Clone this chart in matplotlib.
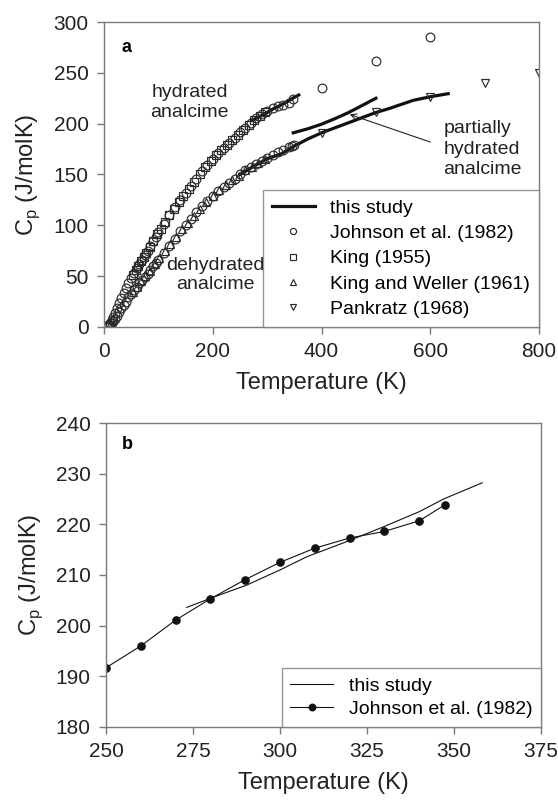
import matplotlib

matplotlib.use("Agg")
import matplotlib.pyplot as plt

plt.rcParams["font.family"] = ["Liberation Sans", "DejaVu Sans"]

# --- panel a: hydrated analcime, Johnson et al. (1982) ---
hyd_T = [5, 8, 11, 14, 17, 20, 24, 28, 32, 36, 40, 45, 50, 55, 60, 65, 70, 75, 80, 85,
         90, 95, 100, 110, 120, 130, 140, 150, 160, 170, 180, 190, 200, 210, 220, 230,
         240, 250, 260, 270, 280, 290, 300, 310, 320, 330, 340, 347.5]
hyd_cp = [0.4, 1.5, 3.5, 6.5, 10, 14, 18.5, 24, 28.5, 33, 38, 43, 48, 53, 58, 62, 66, 71,
          75, 80, 85, 89, 93, 101, 110, 118, 125, 132, 139, 146, 153, 159, 165, 171, 176,
          181, 186, 191.7, 196.0, 201.1, 205.3, 209.1, 212.5, 215.3, 217.3, 218.6, 220.7,
          223.9]

# dehydrated analcime, Johnson et al. (1982)
dehyd_T = [5, 8, 11, 14, 17, 20, 24, 28, 32, 36, 40, 45, 50, 55, 60, 65, 70, 75, 80, 85,
           90, 95, 100, 110, 120, 130, 140, 150, 160, 170, 180, 190, 200, 210, 220, 230,
           240, 250, 260, 270, 280, 290, 300, 310, 320, 330, 340, 345, 350]
dehyd_cp = [0.2, 0.8, 2, 3.5, 5.5, 8, 11, 15, 18.5, 22, 25, 29, 32.5, 36, 39.5, 43, 46, 49,
            52, 56, 60, 63, 66, 73, 80, 87, 94, 100, 106, 113, 119, 124, 129, 134, 138, 142,
            146, 150, 154, 157, 160, 163, 166, 169, 172, 174.5, 177, 178, 179]

# Johnson et al. (1982), high temperature
john_hi_T = [400, 500, 600]
john_hi_cp = [235, 262, 285]

# King (1955)
king_T = [53, 58, 63, 68, 73, 78, 84, 90, 97, 104, 112, 120, 128, 137, 146, 156, 166, 176,
          186, 196, 206, 216, 226, 236, 246, 256, 266, 276, 286, 296]
king_cp = [51, 56, 60, 64.5, 69, 73, 79, 85, 91, 96, 103, 110, 116, 123, 129, 136, 143, 150,
           157, 163, 169, 174, 179, 184, 189, 194, 199, 203.5, 207.5, 211]

# King and Weller (1961)
kw_T = [53, 60, 68, 76, 84, 93, 102, 112, 122, 132, 143, 154, 165, 176, 188, 200, 212, 224,
        236, 248, 260, 272, 284, 296]
kw_cp = [34, 39.5, 45, 50, 55, 61.5, 67.5, 74.5, 81.5, 88.5, 96, 102.5, 109.5, 116.5, 123,
         129, 135, 140, 144.5, 149, 154, 157.5, 161, 165]

# Pankratz (1968)
pank_T = [400, 500, 600, 700, 800]
pank_cp = [191, 211, 226, 240, 250]

# this study
study_hyd_T = [273.2, 280, 290.4, 300, 307.7, 319.2, 329.7, 340, 347, 358.1]
study_hyd_cp = [203.6, 205.4, 208.0, 211.0, 213.6, 216.6, 219.5, 222.5, 225.0, 228.2]
study_dehyd_T = [250, 275, 300, 325, 350, 375, 400, 425, 450, 475, 500, 525, 544, 569, 600, 633]
study_dehyd_cp = [150, 158, 165.5, 170, 178, 185, 191, 196, 201, 206, 211, 215, 218.5, 223,
                  226.5, 229.5]
study_part_T = [348, 375, 400, 425, 450, 475, 500]
study_part_cp = [191, 195, 199.5, 205, 211, 218, 225]

# --- panel b: Johnson et al. (1982) near room temperature ---
b_john_T = [250, 260, 270, 280, 290, 300, 310, 320, 330, 340, 347.5]
b_john_cp = [191.7, 196.0, 201.1, 205.3, 209.1, 212.5, 215.3, 217.3, 218.6, 220.7, 223.9]

GREY = "#7a7a7a"
MK = dict(linestyle="none", markerfacecolor="none", markeredgecolor="#2a2a2a",
          markeredgewidth=0.85, markersize=6.3)

fig = plt.figure(figsize=(5.58, 8.01), dpi=100)
ax = fig.add_axes([0.1864, 0.5918, 0.7796, 0.3807])
bx = fig.add_axes([0.19, 0.0924, 0.7796, 0.3795])

for a in (ax, bx):
    for s in a.spines.values():
        s.set_color(GREY)
        s.set_linewidth(1.0)
    a.tick_params(direction="out", length=5, width=1.0, color=GREY, labelsize=15,
                  labelcolor="#222222", pad=6)

# panel a
ax.plot(study_hyd_T, study_hyd_cp, color="#111111", lw=2.3, label="this study")
ax.plot(study_dehyd_T, study_dehyd_cp, color="#111111", lw=2.3)
ax.plot(study_part_T, study_part_cp, color="#111111", lw=2.3)
ax.plot(hyd_T + john_hi_T, hyd_cp + john_hi_cp, marker="o", label="Johnson et al. (1982)", **MK)
ax.plot(dehyd_T, dehyd_cp, marker="o", **MK)
ax.plot(king_T, king_cp, marker="s", label="King (1955)", **MK)
ax.plot(kw_T, kw_cp, marker="^", label="King and Weller (1961)", **MK)
ax.plot(pank_T, pank_cp, marker="v", label="Pankratz (1968)", **MK)

ax.set_xlim(0, 800)
ax.set_ylim(0, 300)
ax.set_xticks([0, 200, 400, 600, 800])
ax.set_yticks([0, 50, 100, 150, 200, 250, 300])
ax.set_xlabel("Temperature (K)", fontsize=17, color="#222222", labelpad=8)
ax.set_ylabel(r"C$_\mathregular{p}$ (J/molK)", fontsize=17, color="#222222", labelpad=8)

ax.text(42, 275, "a", fontsize=13, fontweight="bold", ha="center", va="center")
ax.text(157, 221, "hydrated\nanalcime", fontsize=14, ha="center", va="center",
        linespacing=1.2, color="#222222")
ax.text(205, 51, "dehydrated\nanalcime", fontsize=14, ha="center", va="center",
        linespacing=1.2, color="#222222")
ax.text(624, 175, "partially\nhydrated\nanalcime", fontsize=14, ha="left", va="center",
        linespacing=1.25, color="#222222")
ax.annotate("", xy=(447, 210), xytext=(605, 181),
            arrowprops=dict(arrowstyle="->", color="#222222", lw=0.8))

leg = ax.legend(loc="lower right", bbox_to_anchor=(1, 0), borderaxespad=0, fontsize=14,
                frameon=True, fancybox=False, markerscale=0.7, handlelength=2.2,
                labelspacing=0.4, borderpad=0.45, handletextpad=0.8)
leg.get_frame().set_edgecolor(GREY)
leg.get_frame().set_linewidth(1.0)

# panel b
bx.plot(study_hyd_T, study_hyd_cp, color="#111111", lw=0.8, label="this study")
bx.plot(b_john_T, b_john_cp, color="#111111", lw=0.8, marker="o", markersize=5.2,
        label="Johnson et al. (1982)")
bx.set_xlim(250, 375)
bx.set_ylim(180, 240)
bx.set_xticks([250, 275, 300, 325, 350, 375])
bx.set_yticks([180, 190, 200, 210, 220, 230, 240])
bx.set_xlabel("Temperature (K)", fontsize=17, color="#222222", labelpad=8)
bx.set_ylabel(r"C$_\mathregular{p}$ (J/molK)", fontsize=17, color="#222222", labelpad=8)
bx.text(256, 235.7, "b", fontsize=13, fontweight="bold", ha="center", va="center")

leg = bx.legend(loc="lower right", bbox_to_anchor=(1, 0), borderaxespad=0, fontsize=14,
                frameon=True, fancybox=False, markerscale=0.9, handlelength=2.2,
                labelspacing=0.3, borderpad=0.45, handletextpad=0.8)
leg.get_frame().set_edgecolor(GREY)
leg.get_frame().set_linewidth(1.0)

fig.savefig("out.png", dpi=100, facecolor="white")
